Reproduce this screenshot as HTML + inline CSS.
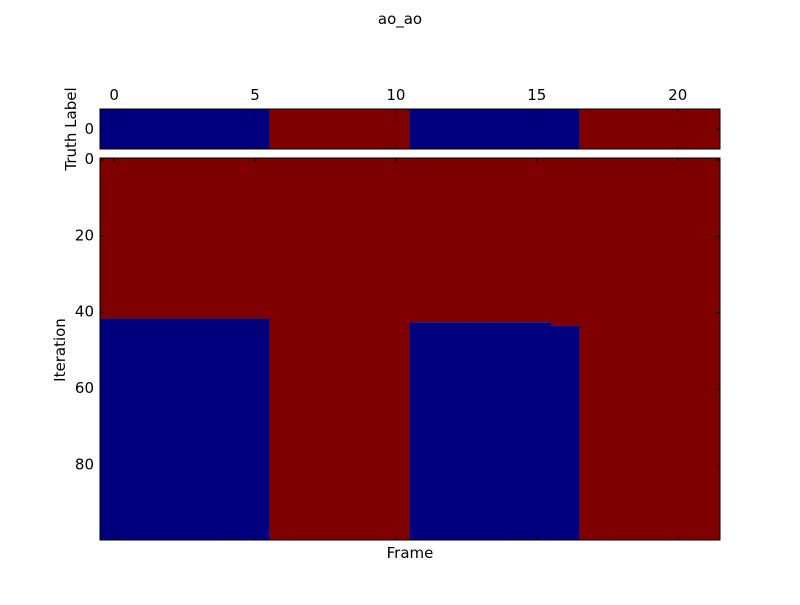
<!DOCTYPE html>
<html><head><meta charset="utf-8"><style>
body{margin:0;background:#fff;width:800px;height:600px;overflow:hidden}
svg text{font-family:"DejaVu Sans","Liberation Sans",sans-serif;font-size:15px;fill:#000}
</style></head><body>
<svg id="c" width="800" height="600"></svg>
<script>
const truthLabels=[0,0,0,0,0,0,1,1,1,1,1,0,0,0,0,0,0,1,1,1,1,1];
// first iteration at which each frame's prediction becomes blue (100 = never)
const switchIter=[42,42,42,42,42,42,100,100,100,100,100,43,43,43,43,43,44,100,100,100,100,100];
const xTicks=[0,5,10,15,20];
const yTicks=[0,20,40,60,80];
const nIter=100;
const colors=["#00007f","#7f0000"];
const NS="http://www.w3.org/2000/svg";
const svg=document.getElementById('c');
const L=100,R=720,T1=109,B1=149,T2=158,B2=540;
const nF=truthLabels.length;
const fx=f=>L+(f+0.5)*(R-L)/nF;
const fw=(R-L)/nF;
const iy=i=>T2+(i)*(B2-T2)/nIter;
function el(t,a,p){const e=document.createElementNS(NS,t);for(const k in a)e.setAttribute(k,a[k]);(p||svg).appendChild(e);return e;}
function txt(x,y,s,anchor,rot){const e=el('text',{x:x,y:y,'text-anchor':anchor||'middle'});if(rot)e.setAttribute('transform',`rotate(-90 ${x} ${y})`);e.textContent=s;return e;}
truthLabels.forEach((v,f)=>{
 const r=el('rect',{x:fx(f)-fw/2,y:T1,width:fw+0.5,height:B1-T1,fill:colors[v]});
 
 
});
switchIter.forEach((s,f)=>{
 const a=el('rect',{x:fx(f)-fw/2,y:iy(0),width:fw+0.5,height:iy(Math.min(s,nIter))-iy(0),fill:colors[1]});
 
 
 if(s<nIter){
  const b=el('rect',{x:fx(f)-fw/2,y:iy(s),width:fw+0.5,height:iy(nIter)-iy(s),fill:colors[0]});
  
  
 }
});
el('rect',{x:L,y:T1,width:R-L,height:B1-T1,fill:'none',stroke:'#000','stroke-width':1});
el('rect',{x:L,y:T2,width:R-L,height:B2-T2,fill:'none',stroke:'#000','stroke-width':1});
xTicks.forEach(v=>{
 const x=fx(v);
 el('line',{x1:x,y1:T1,x2:x,y2:T1+4,stroke:'#000'});
 el('line',{x1:x,y1:B1,x2:x,y2:B1-4,stroke:'#000'});
 el('line',{x1:x,y1:T2,x2:x,y2:T2+4,stroke:'#000'});
 el('line',{x1:x,y1:B2,x2:x,y2:B2-4,stroke:'#000'});
 const t=txt(x,100,String(v));
 
 
});
el('line',{x1:L,y1:129,x2:L+4,y2:129,stroke:'#000'});
el('line',{x1:R,y1:129,x2:R-4,y2:129,stroke:'#000'});
txt(L-6,134,'0','end');
yTicks.forEach(v=>{
 const y=iy(v+0.5);
 el('line',{x1:L,y1:y,x2:L+4,y2:y,stroke:'#000'});
 el('line',{x1:R,y1:y,x2:R-4,y2:y,stroke:'#000'});
 const t=txt(L-6,y+4,String(v),'end');
 
 
});
const tt=txt(400,24,'ao_ao');
const xl=txt(410,558,'Frame');
const yl=txt(65,350,'Iteration','middle',true);
const tl=txt(76,129,'Truth Label','middle',true);
</script>
</body></html>
